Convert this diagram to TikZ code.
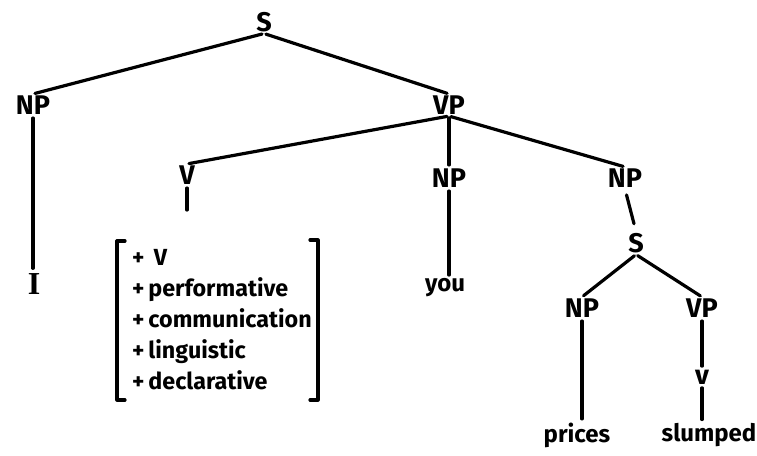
\documentclass[tikz,border=0pt]{standalone}
\usepackage{fontspec}
\setmainfont{Fira Sans}
\newfontfamily\serifI{Liberation Serif}
\begin{document}
\begin{tikzpicture}[x=1pt,y=-1pt,
  lab/.style={font=\fontsize{27}{30}\selectfont\bfseries, inner sep=1.5pt},
  word/.style={font=\fontsize{24}{28}\selectfont\bfseries, inner sep=1.5pt},
  tl/.style={line width=3.2pt, line cap=round, shorten <=2pt, shorten >=2pt},
  br/.style={line width=3.2pt, line cap=round, line join=round}]
\useasboundingbox[fill=white] (0,0) rectangle (757,455);
% nodes
\node[lab] (S1) at (264,22) {S};
\node[lab] (NP1) at (33,105) {NP};
\node[lab] (VP1) at (449,105) {VP};
\node[font=\fontsize{32}{34}\selectfont\serifI\bfseries, inner sep=3pt] (I) at (34,284) {I};
\node[lab] (V) at (187,175) {V};
\node[lab] (NP2) at (449,178) {NP};
\node[lab] (NP3) at (625,178) {NP};
\node[word] (you) at (445,288) {you};
\node[lab] (S2) at (636,243) {S};
\node[lab] (NP4) at (582,308) {NP};
\node[lab] (VP4) at (702,308) {VP};
\node[lab] (v) at (702,377) {v};
\node[word] (prices) at (577,435) {prices};
\node[word] (slumped) at (709,435) {slumped};
\node[font=\fontsize{23.3}{31}\selectfont\bfseries, align=left, anchor=west, inner sep=0pt] (feat) at (132,320)
  {+\, V\\+\,performative\\+\,communication\\+\,linguistic\\+\,declarative};
\coordinate (vend) at (187,212);
% brackets
\draw[br] (125,241) -- (117,241) -- (117,400) -- (125,400);
\draw[br] (310,240) -- (318,240) -- (318,400) -- (310,400);
% connectors
\draw[tl] (S1.south) -- (NP1.north);
\draw[tl] (S1.south) -- (VP1.north);
\draw[tl] (NP1.south) -- (NP1.south |- I.north);
\draw[tl] (VP1.south) -- (V.north);
\draw[tl] (VP1.south) -- (NP2.north);
\draw[tl] (VP1.south) -- (NP3.north);
\draw[tl] (V.south) -- (vend);
\draw[tl] (NP2.south) -- (NP2.south |- you.north);
\draw[tl, shorten <=6pt, shorten >=8pt] (NP3.south) -- (S2.north);
\draw[tl] (S2.south) -- (NP4.north);
\draw[tl] (S2.south) -- (VP4.north);
\draw[tl] (NP4.south) -- (NP4.south |- prices.north);
\draw[tl] (VP4.south) -- (v.north);
\draw[tl] (v.south) -- (v.south |- slumped.north);
\end{tikzpicture}
\end{document}
